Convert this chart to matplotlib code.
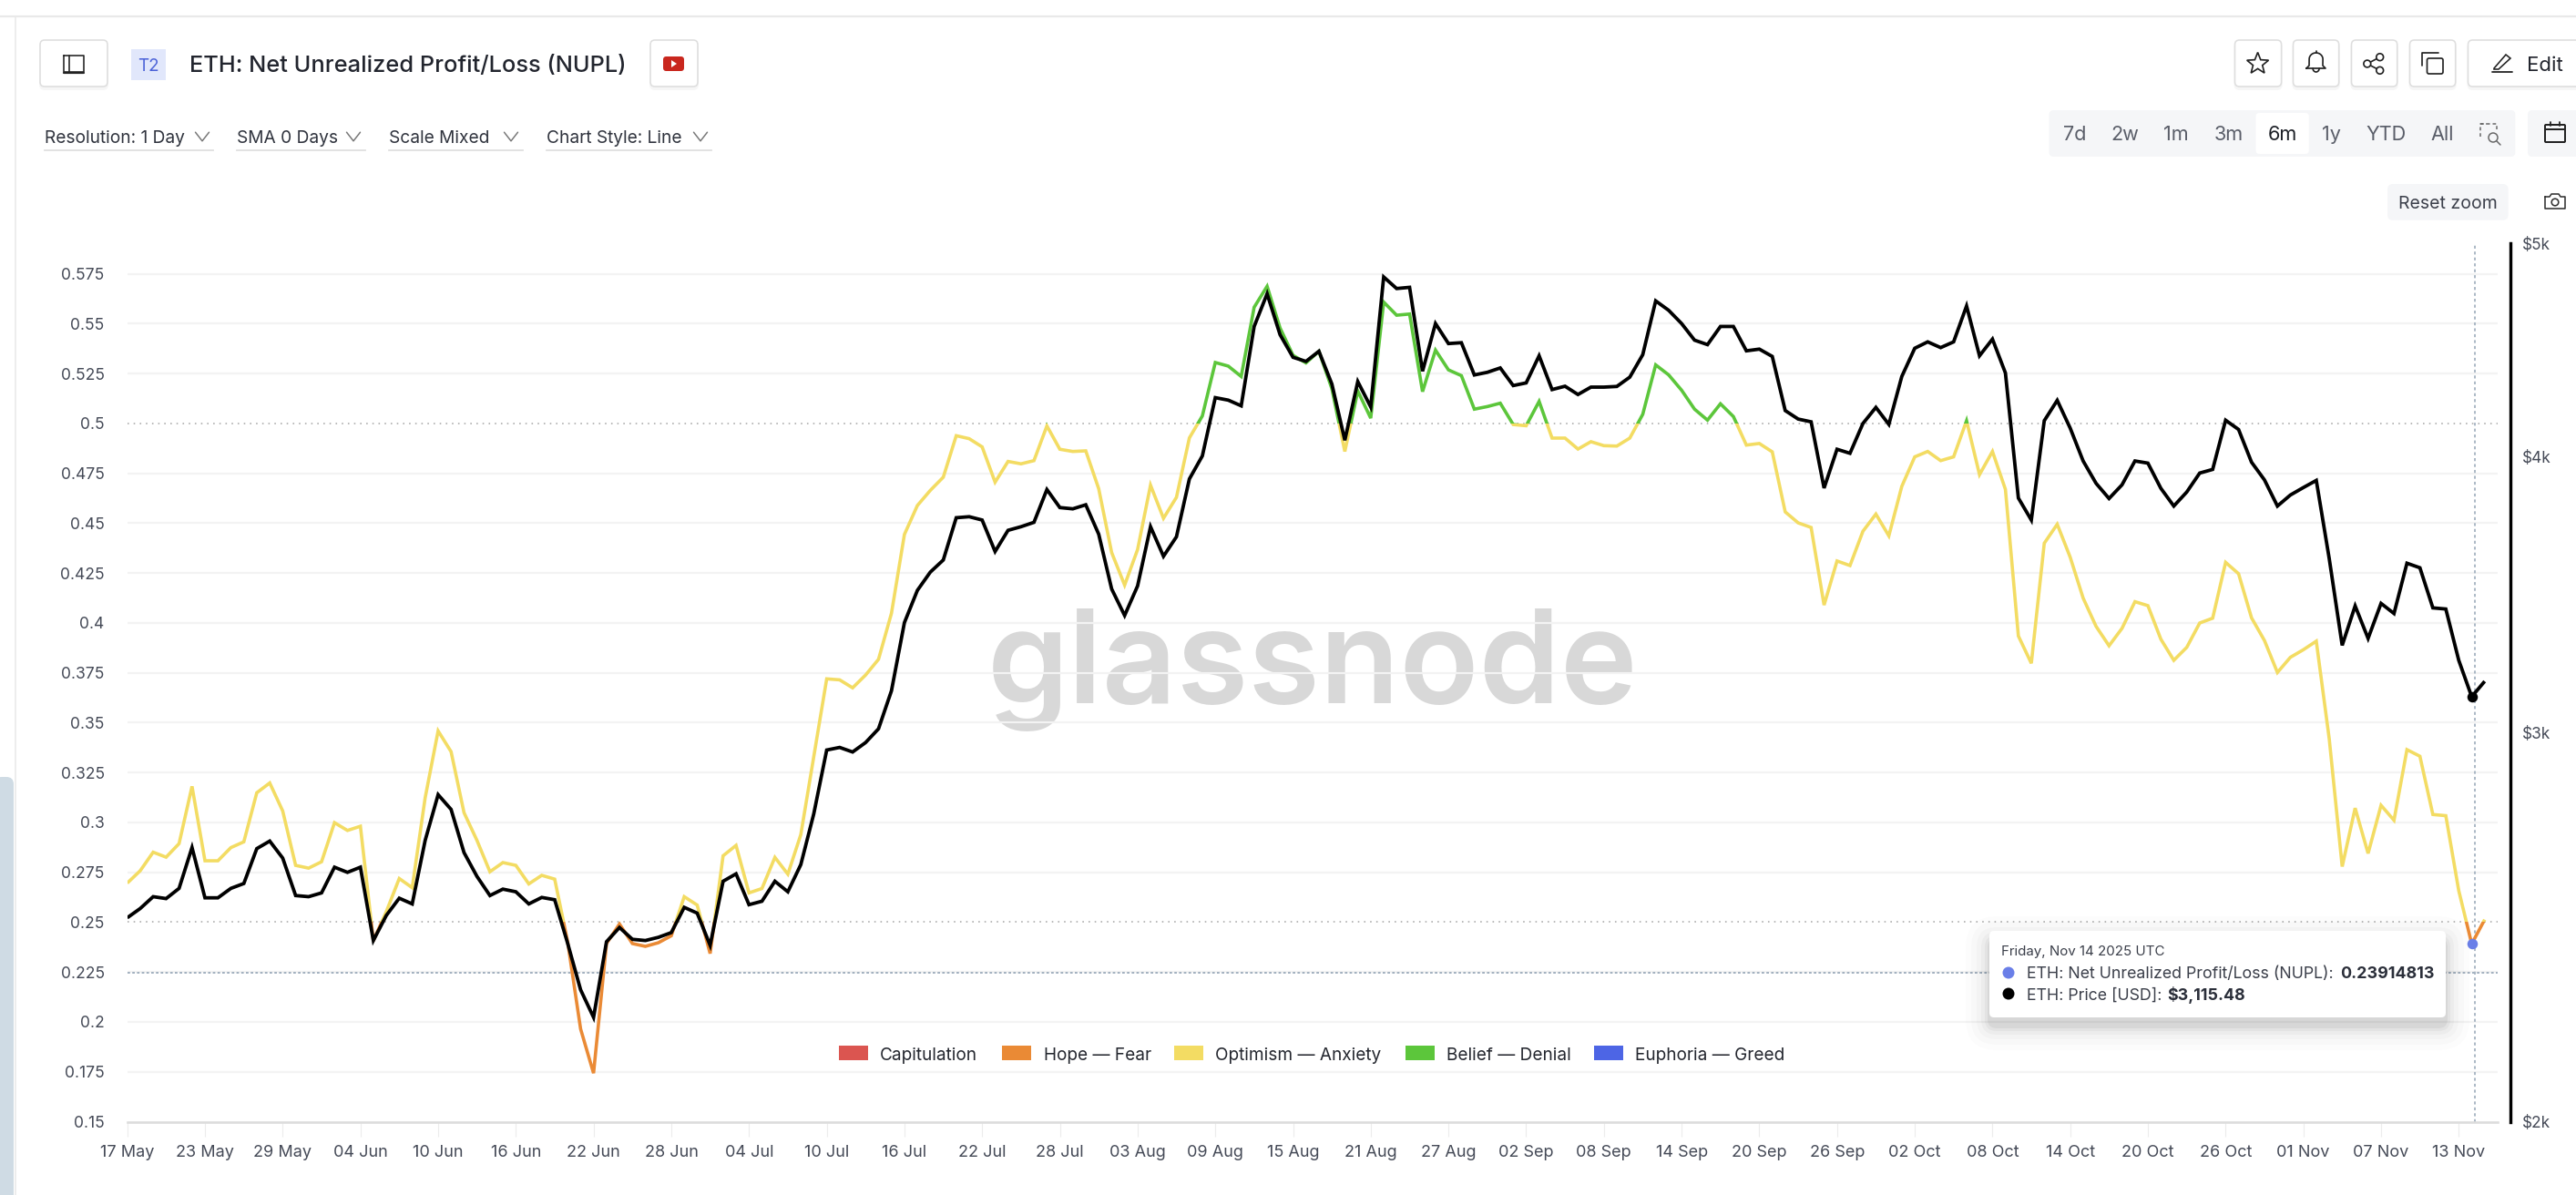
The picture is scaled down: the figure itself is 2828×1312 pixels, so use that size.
import numpy as np
import pandas as pd
import matplotlib
matplotlib.use("Agg")
import matplotlib.pyplot as plt
from matplotlib.patches import FancyBboxPatch, Rectangle, Circle, Polygon
from matplotlib.ticker import FixedLocator, FixedFormatter, NullLocator

plt.rcParams['font.family'] = ['Inter', 'DejaVu Sans']

# ---------------------------------------------------------------- data
start_date = "2025-05-17"
nupl = [
 .2696,.2758,.2851,.2826,.2894,.3181,.2808,.2808,.2874,.2903,.3149,.3198,.3058,.2785,.2771,.2803,.2999,.2960,.2981,.2407,
 .2553,.2719,.2673,.3124,.3459,.3355,.3049,.2910,.2753,.2799,.2785,.2692,.2735,.2716,.2402,.1965,.1743,.2393,.2491,.2393,
 .2379,.2397,.2432,.2628,.2586,.2343,.2833,.2885,.2647,.2669,.2825,.2741,.2939,.3331,.3720,.3715,.3675,.3739,.3818,.4049,
 .4444,.4589,.4665,.4731,.4939,.4924,.4883,.4706,.4810,.4798,.4814,.4988,.4871,.4860,.4863,.4673,.4353,.4190,.4368,.4691,
 .4525,.4630,.4928,.5038,.5306,.5288,.5236,.5583,.5688,.5479,.5342,.5304,.5362,.5175,.4860,.5163,.5027,.5609,.5543,.5549,
 .5160,.5368,.5269,.5240,.5072,.5085,.5102,.4995,.4989,.5111,.4927,.4927,.4872,.4909,.4889,.4887,.4927,.5046,.5294,.5244,
 .5167,.5072,.5017,.5099,.5035,.4892,.4900,.4858,.4557,.4502,.4479,.4090,.4311,.4288,.4460,.4546,.4437,.4685,.4833,.4860,
 .4814,.4833,.5014,.4744,.4860,.4670,.3935,.3798,.4400,.4495,.4330,.4125,.3983,.3886,.3973,.4107,.4087,.3919,.3813,.3878,
 .4000,.4024,.4304,.4247,.4026,.3912,.3752,.3828,.3866,.3909,.3419,.2779,.3072,.2845,.3086,.3011,.3365,.3332,.3040,.3034,
 .2658,.23914813,.2513,
]
price = [
 2474,2498,2529,2524,2551,2662,2526,2526,2551,2564,2659,2680,2633,2532,2529,2539,2608,2594,2608,2416,
 2480,2525,2510,2682,2813,2770,2648,2583,2532,2549,2542,2510,2527,2521,2409,2295,2230,2413,2449,2419,
 2416,2424,2436,2501,2486,2404,2570,2590,2508,2517,2570,2542,2615,2757,2947,2955,2941,2970,3013,3135,
 3366,3481,3548,3593,3755,3759,3746,3625,3706,3720,3737,3867,3795,3790,3806,3691,3486,3391,3497,3720,
 3607,3681,3910,4005,4256,4245,4220,4584,4743,4545,4439,4420,4467,4317,4071,4328,4215,4827,4769,4775,
 4375,4598,4503,4507,4358,4370,4390,4310,4322,4446,4292,4307,4270,4303,4303,4306,4348,4451,4708,4662,
 4598,4519,4498,4584,4584,4469,4477,4443,4199,4162,4150,3873,4033,4016,4143,4213,4139,4351,4481,4511,
 4484,4511,4683,4446,4524,4367,3833,3746,4155,4244,4123,3984,3892,3831,3886,3984,3975,3872,3801,3857,
 3934,3949,4157,4117,3979,3906,3801,3845,3875,3904,3598,3287,3425,3311,3434,3398,3581,3564,3418,3414,
 3236,3115.48,3166,
]
nupl_ticks = [.15,.175,.2,.225,.25,.275,.3,.325,.35,.375,.4,.425,.45,.475,.5,.525,.55,.575]
nupl_tick_labels = ["0.15","0.175","0.2","0.225","0.25","0.275","0.3","0.325","0.35","0.375","0.4","0.425","0.45","0.475","0.5","0.525","0.55","0.575"]
price_ticks = [2000,3000,4000,5000]
price_tick_labels = ["$2k","$3k","$4k","$5k"]
date_tick_labels = ["17 May","23 May","29 May","04 Jun","10 Jun","16 Jun","22 Jun","28 Jun","04 Jul","10 Jul","16 Jul",
 "22 Jul","28 Jul","03 Aug","09 Aug","15 Aug","21 Aug","27 Aug","02 Sep","08 Sep","14 Sep","20 Sep","26 Sep","02 Oct",
 "08 Oct","14 Oct","20 Oct","26 Oct","01 Nov","07 Nov","13 Nov"]
zone_names = ["Capitulation","Hope — Fear","Optimism — Anxiety","Belief — Denial","Euphoria — Greed"]
zone_low = [-1,0,.25,.5,.75]
zone_high = [0,.25,.5,.75,2]
zone_colors = ["#db5550","#ea8a35","#f3dc63","#5cc63b","#4d65e5"]
hover_index = 181
hover_y = .2245
title = "ETH: Net Unrealized Profit/Loss (NUPL)"

# ---------------------------------------------------------------- figure
W, H = 2828, 1312
fig = plt.figure(figsize=(W/100, H/100), dpi=100, facecolor="white")
PX = 0.72
L, R, T, B = 139.7, 2742, 267, 1231.5
TEXT = "#2b2f3a"
GREY = "#454a57"

def overlay(z):
    a = fig.add_axes([0,0,1,1], zorder=z)
    a.set_xlim(0,W); a.set_ylim(H,0); a.axis("off"); a.patch.set_alpha(0)
    return a
bg = overlay(0)
fg = overlay(6)

ax = fig.add_axes([L/W, 1-B/H, (R-L)/W, (B-T)/H], zorder=2)
ax.patch.set_alpha(0)
dates = pd.date_range(start_date, periods=len(nupl), freq="D")
x = np.arange(len(nupl))
ax.set_xlim(0, (R-L)/14.22)
ax.set_ylim(.15, .15+(B-T)/2190)
for s in ["top","right","left"]:
    ax.spines[s].set_visible(False)
ax.spines["bottom"].set_color("#dcdcdc"); ax.spines["bottom"].set_linewidth(2.6*PX)
ax.xaxis.set_major_locator(FixedLocator(list(x[::6])))
ax.xaxis.set_major_formatter(FixedFormatter(date_tick_labels))
ax.tick_params(axis="x", length=16*PX, width=1.2*PX, color="#ececec", labelsize=13.0, labelcolor=GREY, pad=7)
ax.yaxis.set_major_locator(FixedLocator(nupl_ticks))
ax.yaxis.set_major_formatter(FixedFormatter(nupl_tick_labels))
ax.tick_params(axis="y", length=0, labelsize=12.6, labelcolor=GREY, pad=18)
for t in nupl_ticks:
    if t in (.5,.25):
        ax.axhline(t, color="#a9a9a9", lw=1.6*PX, ls=(0,(1,3.2)), zorder=1)
    elif t != .15:
        ax.axhline(t, color="#f3f3f3", lw=2.2*PX, zorder=1)
ax.axhline(hover_y, color="#a4b2c0", lw=2*PX, ls=(0,(1.4,1.2)), zorder=1)
ax.axvline(hover_index+.25, color="#a4b2c0", lw=1.8*PX, ls=(0,(1.8,1.8)), zorder=1)

for lo, hi, col in zip(zone_low, zone_high, zone_colors):
    ln, = ax.plot(x, nupl, color=col, lw=3.6*PX, solid_joinstyle="miter", solid_capstyle="butt", zorder=3)
    ln.set_clip_path(Rectangle((0,lo), 1, hi-lo, transform=ax.get_yaxis_transform()))
ax.plot([x[hover_index]],[nupl[hover_index]], "o", ms=11.5*PX, color="#6a7fe8", mec="none", zorder=4, clip_on=False)

ax2 = ax.twinx()
ax2.set_zorder(3); ax2.patch.set_alpha(0)
ax2.set_yscale("log")
ax2.set_ylim(2000,5000)
ax2.yaxis.set_major_locator(FixedLocator(price_ticks))
ax2.yaxis.set_major_formatter(FixedFormatter(price_tick_labels))
ax2.yaxis.set_minor_locator(NullLocator())
ax2.tick_params(axis="y", which="both", length=0, labelsize=12.4, labelcolor=GREY, pad=9)
for s in ["top","left","bottom"]:
    ax2.spines[s].set_visible(False)
ax2.spines["right"].set_position(("outward", 14*PX))
ax2.spines["right"].set_linewidth(3.4*PX); ax2.spines["right"].set_color("black")
ax2.plot(x, price, color="black", lw=3.8*PX, solid_joinstyle="miter", solid_capstyle="butt", zorder=5)
ax2.plot([x[hover_index]],[price[hover_index]], "o", ms=11.5*PX, color="black", mec="none", zorder=6)

# ---------------------------------------------------------------- chrome helpers
def box(a, x0,y0,x1,y1, fc="white", ec="none", lw=1.6, r=5, z=2, alpha=None):
    a.add_patch(FancyBboxPatch((x0,y0), x1-x0, y1-y0, boxstyle=f"round,pad=0,rounding_size={r}",
                               fc=fc, ec=ec, lw=lw*PX, zorder=z, alpha=alpha))
def txt(a, x0,y0,s,size,color=TEXT,ha="left",weight="normal",z=5):
    a.text(x0,y0,s,fontsize=size,color=color,ha=ha,va="center_baseline",fontweight=weight,zorder=z)
def seg(a, xs, ys, color="#222", lw=2.0, z=5, **kw):
    a.plot(xs,ys,color=color,lw=lw*PX,zorder=z,solid_capstyle="round",solid_joinstyle="round",**kw)
def button(a,x0,x1,y0=44,y1=95):
    box(a,x0-1,y0+2,x1+1,y1+4,fc="#f6f6f6",r=6,z=1)
    box(a,x0,y0,x1,y1,ec="#dedede",r=5,z=2)
def chevron(a,cx,cy=150,w=7.5,h=8):
    seg(a,[cx-w,cx,cx+w],[cy-h*.6,cy+h*.6,cy-h*.6],color="#777",lw=1.5)

# frame
bg.plot([0,W],[18,18],color="#e9e9e9",lw=2.2*PX)
bg.plot([17,17],[18,H],color="#e9e9e9",lw=1.6*PX)
box(bg,-6,853,15,H+20,fc="#cfdbe4",r=8,z=1)

# header
button(bg,44,118)
seg(fg,[70,92,92,70,70],[61,61,79,79,61],lw=1.6)
seg(fg,[76,76],[61,79],lw=1.6); seg(fg,[70,92],[79.5,79.5],lw=2.2)
bg.add_patch(Rectangle((144,54),38,34,fc="#e1e7fb",ec="none",zorder=2))
txt(fg,163,71,"T2",13.6,color="#4c63d8",ha="center")
txt(fg,208,70,title,18.3,color="#22252e",weight="medium")
button(bg,714,766)
box(fg,728,62,751,78,fc="#c9271e",r=3.5)
fg.add_patch(Polygon([[737,66],[737,74],[743,70]],fc="white",ec="none",zorder=6))

# dropdowns
for s,x0,cx,x1 in [("Resolution: 1 Day",49,222,234),("SMA 0 Days",260,388,401),("Scale Mixed",427,561,574),("Chart Style: Line",600,769,781)]:
    txt(fg,x0,150,s,13.8,color="#30343e")
    chevron(fg,cx)
    bg.plot([x0,x1],[165,165],color="#dfdfdf",lw=1.8*PX)

# right buttons
for x0,x1 in [(2453.5,2504.6),(2517.5,2567.7),(2581.5,2631.7),(2645.5,2695.7)]:
    button(bg,x0,x1)
button(bg,2709.5,2860)
ang = np.deg2rad(np.arange(10)*36-90); rad = np.where(np.arange(10)%2==0,12.5,5.4)
fg.add_patch(Polygon(np.c_[2478.6+rad*np.cos(ang),70+rad*np.sin(ang)],fc="none",ec="#222",lw=1.7*PX,zorder=5))
t = np.linspace(np.pi,0,30)
bx = 2542.6+7.5*np.cos(t); by = 65+7*np.sin(t)*-1
seg(fg,np.r_[2532,2535,bx,2550,2553,2532],np.r_[75,72,by,72,75,75],lw=1.7)
seg(fg,[2542.6,2542.6],[56,58],lw=1.7)
t = np.linspace(np.pi,2*np.pi,20)
seg(fg,2542.6+3.5*np.cos(t),75+4*np.abs(np.sin(t)),lw=1.7)
seg(fg,[2598.8,2612.7],[70,62.7],lw=1.7); seg(fg,[2598.8,2612.7],[70,77.3],lw=1.7)
for c in [(2612.7,62.7),(2598.8,70),(2612.7,77.3)]:
    fg.add_patch(Circle(c,3.9,fc="white",ec="#222",lw=1.7*PX,zorder=6))
box(fg,2664.5,64,2682,81,fc="white",ec="#222",lw=1.7,r=2)
seg(fg,[2659,2659,2677],[72,58,58],lw=1.7)
seg(fg,[2735.5,2758],[79,79],lw=1.8)
fg.add_patch(Polygon([[2738,75],[2751,60],[2756,64],[2743,76],[2738,76]],fc="none",ec="#222",lw=1.6*PX,zorder=5))
txt(fg,2773.5,70,"Edit",16.0,color="#22252e")

# range selector
box(bg,2249.5,121,2761.4,172,fc="#f5f6f8",r=5)
box(bg,2775,121,2860,172,fc="#f5f6f8",r=5)
box(bg,2476.5,124,2534.8,169,fc="white",r=4,z=3)
for s,cx in [("7d",2278),("2w",2333),("1m",2388.7),("3m",2446.6),("6m",2505.4),("1y",2559.5),("YTD",2619.6),("All",2681.4)]:
    txt(fg,cx,146,s,15.6,color="#1d2027" if s=="6m" else "#5a5e69",ha="center")
seg(fg,[2722.5,2740.6,2740.6],[136,136,144],color="#666",lw=1.5,ls=(0,(2.5,2)))
seg(fg,[2722.5,2722.5,2730],[150,136,136],color="#666",lw=1.5,ls=(0,(2.5,2)))
fg.add_patch(Circle((2737,151),5,fc="none",ec="#666",lw=1.5*PX,zorder=5))
seg(fg,[2741,2745],[155,159],color="#666",lw=1.5)
box(fg,2794,137,2816,156,fc="none",ec="#222",lw=2,r=1)
seg(fg,[2794,2816],[142,142],lw=2); seg(fg,[2800,2800],[134,138],lw=1.8); seg(fg,[2810,2810],[134,138],lw=1.8)

# reset zoom & camera
box(bg,2621,202,2753.6,241.7,fc="#f5f6f8",r=6)
txt(fg,2687.5,222,"Reset zoom",14.0,color="#3c404b",ha="center")
seg(fg,[2794,2799,2801,2809,2811,2816,2816,2794,2794],[216,216,213,213,216,216,229,229,216],color="#333",lw=1.6)
fg.add_patch(Circle((2805,222),3.8,fc="none",ec="#333",lw=1.6*PX,zorder=5))

# watermark
bg.text(1441,772,"glassnode",fontsize=103,color="#d8d8d8",ha="center",va="baseline",family=["Inter","DejaVu Sans"],fontweight="semibold",zorder=1)

# legend
for name,col,(sx,tx) in zip(zone_names,zone_colors,[(921,966),(1100,1145.5),(1289,1334),(1543,1588.5),(1750,1795)]):
    fg.add_patch(Rectangle((sx,1148),32,16,fc=col,ec="none",zorder=5))
    txt(fg,tx,1157,name,13.7,color="#24272f")

# tooltip
for i,(g,al) in enumerate([(26,.012),(20,.016),(14,.02),(9,.028),(5,.035),(2,.05)]):
    box(fg,2184-g,1022-g+10,2685+g,1117+g+10,fc="black",r=8+g,z=7,alpha=al)
box(fg,2184,1022,2685,1117,fc="white",r=5,z=8)
def ttxt(x0,y0,s,size,weight="normal",color="#3a3e49",**kw):
    fg.text(x0,y0,s,fontsize=size,color=color,ha="left",va="center_baseline",fontweight=weight,zorder=9,**kw)
ttxt(2197,1043,"Friday, Nov 14 2025 UTC",10.9)
ttxt(2225,1068,"ETH: Net Unrealized Profit/Loss (NUPL):",12.8)
ttxt(2569,1068,"0.23914813",12.9,weight="bold",color="#2b2f3a")
ttxt(2225,1091,"ETH: Price [USD]:",12.8)
ttxt(2379,1091,"$3,115.48",12.9,weight="bold",color="#2b2f3a")
fg.add_patch(Circle((2205,1068),6.5,fc="#6a7fe8",ec="none",zorder=9))
fg.add_patch(Circle((2205,1091),6.5,fc="black",ec="none",zorder=9))

fig.savefig("out.png", dpi=100, facecolor="white")
